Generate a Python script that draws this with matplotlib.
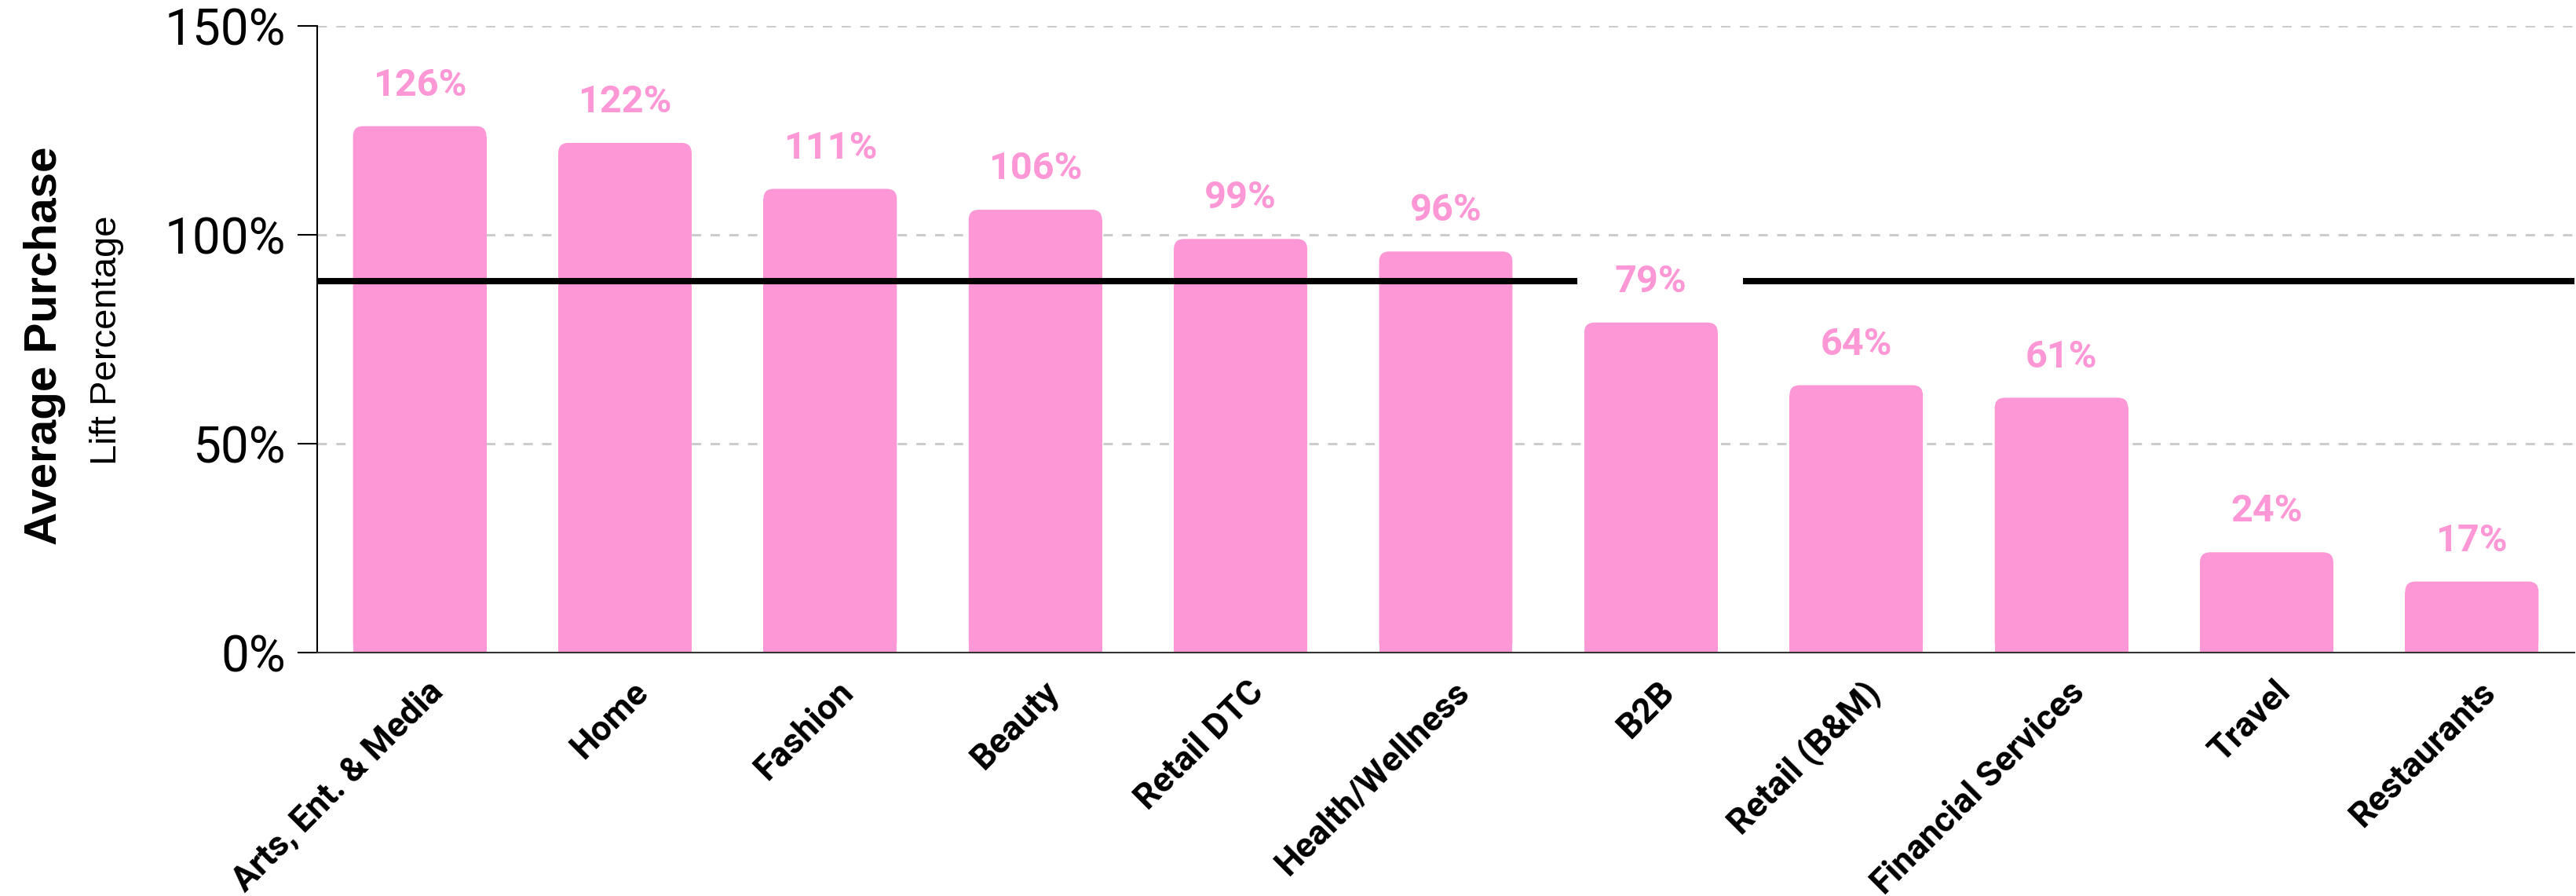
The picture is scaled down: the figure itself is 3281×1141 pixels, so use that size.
import matplotlib
matplotlib.use("Agg")
import matplotlib.pyplot as plt
from matplotlib.patches import FancyBboxPatch
from matplotlib.transforms import ScaledTranslation

# 数据
categories = ["Arts, Ent. & Media", "Home", "Fashion", "Beauty", "Retail DTC",
              "Health/Wellness", "B2B", "Retail (B&M)", "Financial Services",
              "Travel", "Restaurants"]
lift = [126, 122, 111, 106, 99, 96, 79, 64, 61, 24, 17]
average_lift = 89
y_ticks = [0, 50, 100, 150]

PINK = "#FE97D5"
BAR_W = 0.65
GAP_IDX = categories.index("B2B")  # 平均线在 B2B 标签处断开

plt.rcParams["font.family"] = ["Roboto", "DejaVu Sans"]

fig = plt.figure(figsize=(32.81, 11.41), dpi=100)
ax = fig.add_axes([0.1231, 0.2717, 0.8763, 0.6994])

x = list(range(len(categories)))
ax.set_xlim(-0.5, len(categories) - 0.5)
ax.set_ylim(0, 150)

# 圆角柱子：宽高比换算，让圆角在像素上是圆的
bbox = ax.get_window_extent()
px_x = bbox.width / (len(categories))
px_y = bbox.height / 150
aspect = px_x / px_y
r = 13 / px_x

bars = ax.bar(x, lift, width=BAR_W, color=PINK, zorder=2, linewidth=0)
for rect in bars:
    x0, w, h = rect.get_x(), rect.get_width(), rect.get_height()
    rect.set_height(h - r * aspect)
    ax.add_patch(FancyBboxPatch((x0, 0), w, h,
                                boxstyle=f"round,pad=0,rounding_size={r}",
                                mutation_aspect=aspect, fc=PINK, ec="none", zorder=2))

# 数值标签
for i, v in enumerate(lift):
    ax.annotate(f"{v}%", (i, v), xytext=(0, 28), textcoords="offset points",
                ha="center", va="baseline", fontsize=35, fontweight="bold", color=PINK)

# 平均线
ax.hlines(average_lift, -0.5, GAP_IDX - 0.36, color="black", lw=5.8, zorder=3)
ax.hlines(average_lift, GAP_IDX + 0.45, len(categories) - 0.5, color="black", lw=5.8, zorder=3)

# 网格、坐标轴
ax.set_axisbelow(True)
ax.yaxis.grid(True, color="#CCCCCC", lw=2.2, linestyle=(0, (3.9, 3.9)))
ax.set_yticks(y_ticks, [f"{t}%" for t in y_ticks])
ax.tick_params(axis="y", length=18, width=1.5, color="black", pad=11, labelsize=46)
ax.tick_params(axis="x", length=0, pad=21)
ax.set_xticks(x, categories, rotation=45, ha="right", va="top",
              rotation_mode="anchor", fontsize=32, fontweight="bold")
offset = ScaledTranslation(6 / 72, 0, fig.dpi_scale_trans)
for lab in ax.get_xticklabels():
    lab.set_transform(lab.get_transform() + offset)

for side in ["top", "right"]:
    ax.spines[side].set_visible(False)
ax.spines["left"].set_linewidth(1.5)
ax.spines["left"].set_color("black")
ax.spines["bottom"].set_linewidth(1.5)
ax.spines["bottom"].set_color("#333333")

# 纵轴标题（两行）
fig.text(57 / 3281, 1 - 440 / 1141, "Average Purchase", rotation=90, ha="center", va="center",
         fontsize=42, fontweight="bold", family=["Liberation Sans", "DejaVu Sans"])
fig.text(136 / 3281, 1 - 433 / 1141, "Lift Percentage", rotation=90, ha="center", va="center",
         fontsize=34, family=["Liberation Sans", "DejaVu Sans"])

fig.savefig("out.png", dpi=100, facecolor="white")
